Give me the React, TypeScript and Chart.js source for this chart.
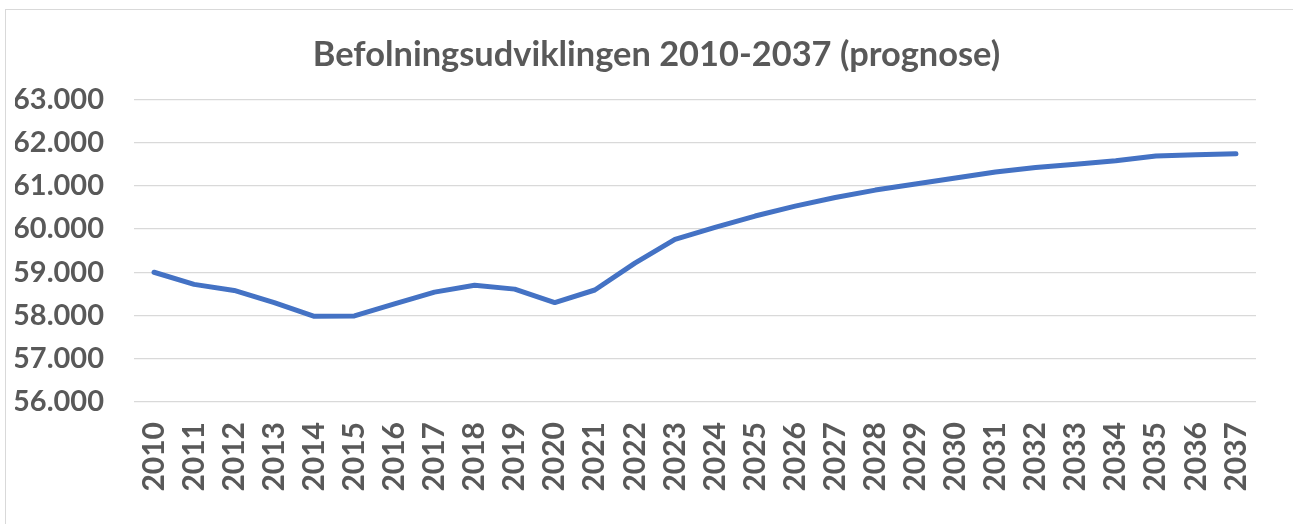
import React, { useEffect, useRef } from "react";
import { Chart, registerables } from "chart.js";

Chart.register(...registerables);

const years = [
  "2010", "2011", "2012", "2013", "2014", "2015", "2016", "2017", "2018", "2019",
  "2020", "2021", "2022", "2023", "2024", "2025", "2026", "2027", "2028", "2029",
  "2030", "2031", "2032", "2033", "2034", "2035", "2036", "2037",
];

const population = [
  59000, 58720, 58580, 58300, 57980, 57990, 58270, 58540, 58700, 58610,
  58300, 58590, 59210, 59760, 60040, 60300, 60530, 60730, 60900, 61040,
  61180, 61320, 61420, 61500, 61580, 61690, 61720, 61740,
];

const titleText = "Befolningsudviklingen 2010-2037 (prognose)";
const yMin = 56000;
const yMax = 63000;
const yStep = 1000;

const FONT = "Lato, 'Open Sans', sans-serif";
const TEXT = "#595959";

const shiftTitle = {
  id: "shiftTitle",
  afterLayout(chart: any) {
    const t = chart.titleBlock;
    if (t) {
      t.left += 42;
    }
  },
};

export default function App() {
  const ref = useRef<HTMLCanvasElement | null>(null);

  useEffect(() => {
    if (!ref.current) return;
    const chart = new Chart(ref.current, {
      type: "line",
      data: {
        labels: years,
        datasets: [
          {
            label: "Befolkning",
            data: population,
            borderColor: "#4472C4",
            backgroundColor: "#4472C4",
            borderWidth: 5,
            pointRadius: 0,
            borderCapStyle: "round",
            borderJoinStyle: "round",
            tension: 0,
          },
        ],
      },
      options: {
        animation: false,
        responsive: false,
        maintainAspectRatio: false,
        layout: { padding: { left: 15, right: 37, top: 0, bottom: 0 } },
        plugins: {
          legend: { display: false },
          tooltip: { enabled: false },
          title: {
            display: true,
            text: titleText,
            color: TEXT,
            font: { family: FONT, size: 34.4, weight: "bold", lineHeight: 1.2 },
            padding: { top: 34, bottom: 24 },
          },
        },
        scales: {
          x: {
            offset: true,
            grid: { display: false, drawTicks: false },
            border: { display: false },
            ticks: {
              color: TEXT,
              font: { family: FONT, size: 30, weight: "bold" },
              minRotation: 90,
              maxRotation: 90,
              autoSkip: false,
              padding: 20,
            },
            afterFit: (scale: any) => {
              scale.height = 122;
            },
          },
          y: {
            min: yMin,
            max: yMax,
            grid: { color: "#d9d9d9", lineWidth: 1.3, drawTicks: false },
            border: { display: false },
            ticks: {
              stepSize: yStep,
              color: TEXT,
              padding: 30,
              font: { family: FONT, size: 29, weight: "bold" },
              callback: (v: any) =>
                Number(v).toLocaleString("da-DK", { minimumFractionDigits: 0 }).replace(/,/g, "."),
            },
            afterFit: (scale: any) => {
              scale.width = 119;
            },
          },
        },
      },
      plugins: [shiftTitle],
    });
    return () => chart.destroy();
  }, []);

  return (
    <div style={{ position: "fixed", left: 0, top: 0, width: 1293, height: 524, background: "#fff" }}>
      <div
        style={{
          position: "absolute",
          left: 5,
          top: 9,
          width: 1400,
          height: 600,
          border: "1px solid #d9d9d9",
          boxSizing: "border-box",
        }}
      />
      <canvas ref={ref} width={1293} height={524} style={{ position: "absolute", left: 0, top: 0 }} />
    </div>
  );
}
